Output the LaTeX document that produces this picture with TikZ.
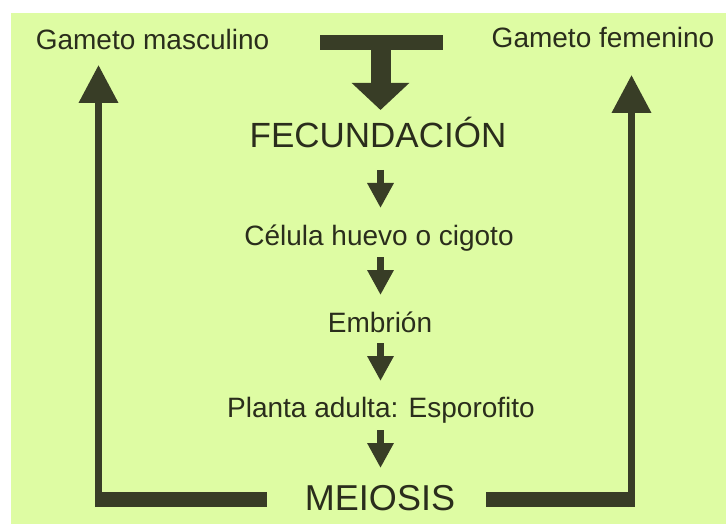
\documentclass[tikz,border=0pt]{standalone}
\usepackage{fontspec}
\setmainfont{Liberation Sans}
\usetikzlibrary{arrows.meta}
\definecolor{bgreen}{HTML}{DEFCA3}
\definecolor{dk}{HTML}{383D26}
\definecolor{txt}{HTML}{2A2D1C}
\tikzset{
  lbl/.style={anchor=base, inner sep=0pt, text=txt, font=\fontsize{28}{30}\selectfont},
  bigl/.style={anchor=base, inner sep=0pt, text=txt, font=\fontsize{35}{38}\selectfont},
  smallarrow/.style={draw=dk, line width=7pt, -{Triangle[width=25pt,length=25pt]}},
  sidearrow/.style={draw=dk, line width=7pt, -{Triangle[width=38pt,length=38pt]}},
  toparrow/.style={draw=dk, line width=20pt, -{Triangle[width=56pt,length=27pt]}},
  barfill/.style={fill=dk}
}
\begin{document}
\begin{tikzpicture}[x=1pt,y=-1pt]
\useasboundingbox (0,0) rectangle (726,524);
\fill[white] (0,0) rectangle (726,524);
\fill[bgreen] (11,13) rectangle (726,524);

% text nodes
\node[lbl] (gm) at (152.5,50) {Gameto masculino};
\node[lbl] (gf) at (603,48) {Gameto femenino};
\node[bigl] (fec) at (378,148) {FECUNDACIÓN};
\node[lbl] (cel) at (379,245) {Célula huevo o cigoto};
\node[lbl] (emb) at (380,332) {Embrión};
\node[lbl] (pla) at (381,417) {Planta adulta: Esporofito};
\node[bigl, font=\fontsize{36}{38}\selectfont] (mei) at (380,510) {MEIOSIS};

% top T arrow
\fill[barfill] (320,35) rectangle (443,50);
\coordinate (tstart) at (380.5,49.5);
\coordinate (tend) at (380.5,110);
\draw[toparrow] (tstart) -- (tend);

% small arrows
\coordinate (a1s) at (380.5,170); \coordinate (a1e) at (380.5,208);
\coordinate (a2s) at (380.5,257); \coordinate (a2e) at (380.5,295);
\coordinate (a3s) at (380.5,343); \coordinate (a3e) at (380.5,381);
\coordinate (a4s) at (380.5,430); \coordinate (a4e) at (380.5,468);
\draw[smallarrow] (a1s) -- (a1e);
\draw[smallarrow] (a2s) -- (a2e);
\draw[smallarrow] (a3s) -- (a3e);
\draw[smallarrow] (a4s) -- (a4e);

% left loop
\fill[barfill] (95,492) rectangle (267,507);
\coordinate (ls) at (98.5,507);
\coordinate (le) at (98.5,65);
\draw[sidearrow] (ls) -- (le);

% right loop
\fill[barfill] (486,492) rectangle (635,507);
\coordinate (rs) at (631.5,507);
\coordinate (re) at (631.5,75);
\draw[sidearrow] (rs) -- (re);
\end{tikzpicture}
\end{document}
